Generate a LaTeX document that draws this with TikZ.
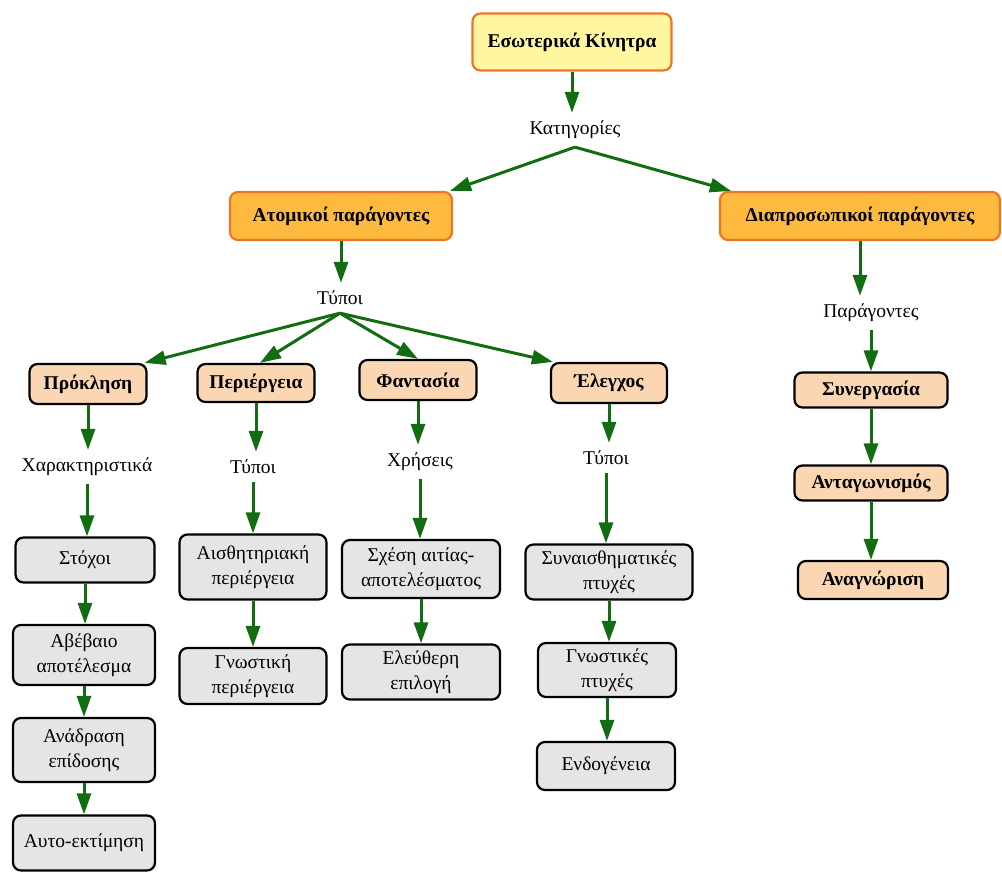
\documentclass[tikz,border=0pt]{standalone}
\usepackage{xcolor}
\usepackage{fontspec}
\setmainfont{Liberation Serif}
\usetikzlibrary{arrows.meta}

\definecolor{arrgreen}{RGB}{18,108,18}
\definecolor{lightyellow}{RGB}{255,246,160}
\definecolor{edgeorange}{RGB}{236,118,38}
\definecolor{factororange}{RGB}{253,186,62}
\definecolor{peach}{RGB}{251,214,178}
\definecolor{itemgray}{RGB}{229,229,229}

\begin{document}
\begin{tikzpicture}[x=1pt, y=-1pt, font=\fontsize{19.5}{25}\selectfont,
    box/.style={draw, rounded corners=8pt, line width=2.2pt, align=center, inner sep=2pt},
    topbox/.style={box, draw=edgeorange, fill=lightyellow, font=\fontsize{19.5}{25}\selectfont\bfseries},
    factorbox/.style={box, draw=edgeorange, fill=factororange, minimum height=48pt, font=\fontsize{19.5}{25}\selectfont\bfseries},
    kindbox/.style={box, draw=black, fill=peach, font=\fontsize{19.5}{25}\selectfont\bfseries},
    itembox/.style={box, draw=black, fill=itemgray},
    word/.style={inner sep=8pt},
    arr/.style={draw=arrgreen, line width=3pt, -{Triangle[length=21pt,width=14pt]}}]

\useasboundingbox (0,0) rectangle (1002,874);

% Top node and the two categories
\node[topbox, minimum width=199pt, minimum height=57pt] (top) at (572,42) {Εσωτερικά Κίνητρα};
\node[word] (kat) at (575,130) {Κατηγορίες};
\node[factorbox, minimum width=222pt] (atom) at (341,216) {Ατομικοί παράγοντες};
\node[factorbox, minimum width=280pt] (diap) at (860,216) {Διαπροσωπικοί παράγοντες};

\draw[arr] (top) -- (top |- kat.north);
\draw[arr] (kat.south) -- ([xshift=-3pt]atom.north east);
\draw[arr] (kat.south) -- ([xshift=12pt]diap.north west);

% Individual factors
\node[word] (typ1) at (340,298) {Τύποι};
\draw[arr] (atom) -- (atom |- typ1.north);

\node[kindbox, minimum width=117pt, minimum height=40pt] (prok) at (88,384) {Πρόκληση};
\node[kindbox, minimum width=117pt, minimum height=38pt] (per) at (256,383) {Περιέργεια};
\node[kindbox, minimum width=117pt, minimum height=40pt] (fan) at (418,380) {Φαντασία};
\node[kindbox, minimum width=116pt, minimum height=40pt] (ele) at (609,383) {Έλεγχος};

\draw[arr] (typ1.south) -- ([xshift=-3pt]prok.north east);
\draw[arr] (typ1.south) -- ([xshift=4pt]per.north);
\draw[arr] (typ1.south) -- (fan.north);
\draw[arr] (typ1.south) -- ([xshift=3pt]ele.north west);

\node[word] (xar) at (87,467) {Χαρακτηριστικά};
\node[word] (typ2) at (253,467) {Τύποι};
\node[word] (xrh) at (420,462) {Χρήσεις};
\node[word] (typ3) at (606,458) {Τύποι};

% Challenge
\node[itembox, minimum width=139pt, minimum height=45pt] (stx) at (85,560) {Στόχοι};
\node[itembox, minimum width=142pt, minimum height=60pt] (abe) at (84,655) {Αβέβαιο\\αποτέλεσμα};
\node[itembox, minimum width=142pt, minimum height=64pt] (and) at (84,750) {Ανάδραση\\επίδοσης};
\node[itembox, minimum width=142pt, minimum height=55pt] (aut) at (84,843) {Αυτο-εκτίμηση};

% Curiosity
\node[itembox, minimum width=147pt, minimum height=65pt] (ais) at (253,567) {Αισθητηριακή\\περιέργεια};
\node[itembox, minimum width=147pt, minimum height=56pt] (gnw) at (253,676) {Γνωστική\\περιέργεια};

% Fantasy
\node[itembox, minimum width=158pt, minimum height=58pt] (sxe) at (421,569) {Σχέση αιτίας-\\αποτελέσματος};
\node[itembox, minimum width=158pt, minimum height=55pt] (ele2) at (421,672) {Ελεύθερη\\επιλογή};

% Control
\node[itembox, minimum width=167pt, minimum height=55pt] (syn) at (609,572) {Συναισθηματικές\\πτυχές};
\node[itembox, minimum width=138pt, minimum height=54pt] (gnp) at (607,670) {Γνωστικές\\πτυχές};
\node[itembox, minimum width=138pt, minimum height=48pt] (end) at (606,766) {Ενδογένεια};

% Interpersonal factors
\node[word] (par) at (871,313) {Παράγοντες};
\node[kindbox, minimum width=153pt, minimum height=35pt] (sne) at (871,390) {Συνεργασία};
\node[kindbox, minimum width=153pt, minimum height=35pt] (ant) at (871,483) {Ανταγωνισμός};
\node[kindbox, minimum width=150pt, minimum height=38pt] (ana) at (873,580) {Αναγνώριση};

% Vertical chains
\foreach \a/\b in {prok/xar, xar/stx, stx/abe, abe/and, and/aut,
                   per/typ2, typ2/ais, ais/gnw,
                   fan/xrh, xrh/sxe, sxe/ele2,
                   ele/typ3, typ3/syn, syn/gnp, gnp/end,
                   diap/par, par/sne, sne/ant, ant/ana}
    \draw[arr] (\a) -- (\a |- \b.north);

\end{tikzpicture}
\end{document}
